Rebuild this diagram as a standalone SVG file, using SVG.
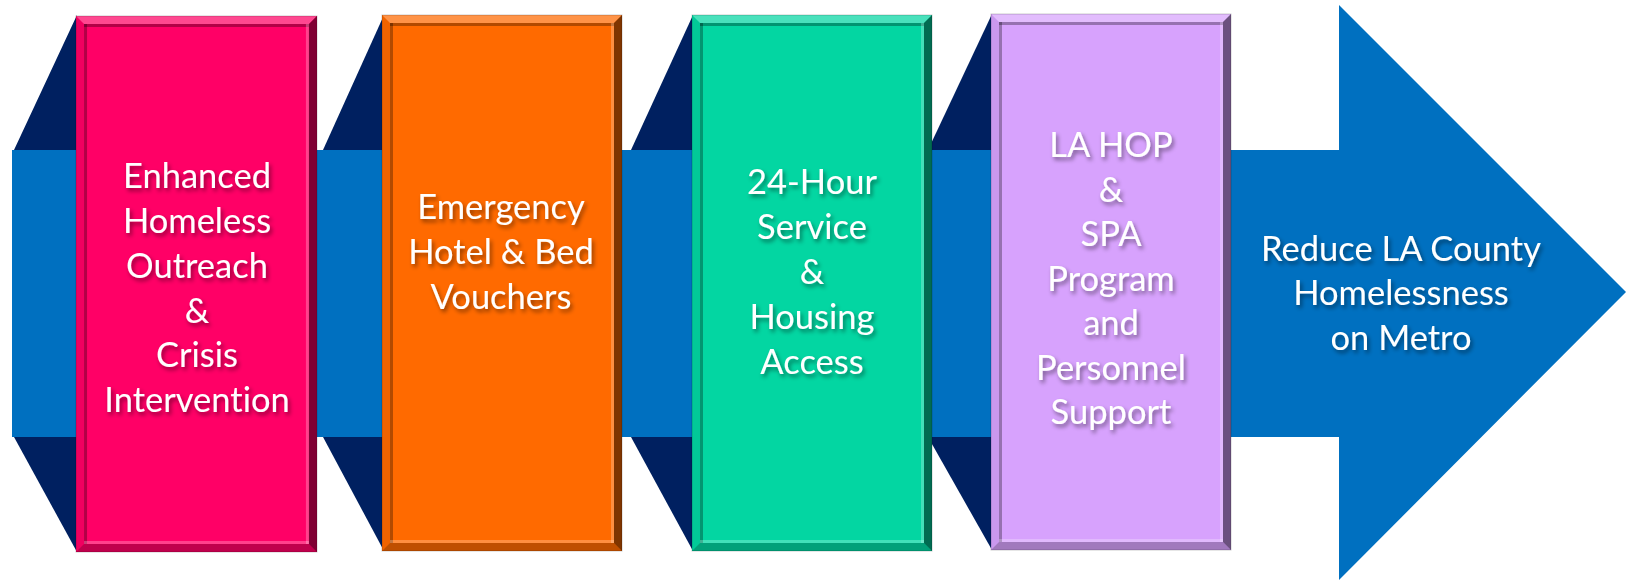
<svg xmlns="http://www.w3.org/2000/svg" xmlns:xlink="http://www.w3.org/1999/xlink" width="1628" height="580" viewBox="0 0 1628 580">
  <style>
    .lbl { font-family: Lato, "Liberation Sans", sans-serif; font-size: 34.5px; fill: #ffffff; text-anchor: middle; font-variant-ligatures: none; filter: url(#ts); }
    .fold { fill: #002060; }
    .band { fill: #0070C0; }
  </style>
  <defs>
    <filter id="ts" x="-20%" y="-40%" width="140%" height="180%">
      <feDropShadow dx="2" dy="3" stdDeviation="2" flood-color="#000000" flood-opacity="0.45"/>
    </filter>
    <g id="bevel">
      <polygon points="0,0 240,0 232,8 8,8" fill="#ffffff" fill-opacity="0.28"/>
      <polygon points="0,0 8,8 8,528 0,536" fill="#000000" fill-opacity="0.06"/>
      <polygon points="240,0 240,536 232,528 232,8" fill="#000000" fill-opacity="0.5"/>
      <polygon points="0,536 8,528 232,528 240,536" fill="#000000" fill-opacity="0.25"/>
      <rect x="8" y="8" width="224" height="3" fill="#000000" fill-opacity="0.3"/>
      <rect x="8" y="8" width="3" height="520" fill="#000000" fill-opacity="0.3"/>
      <rect x="229" y="8" width="3" height="520" fill="#ffffff" fill-opacity="0.25"/>
      <rect x="8" y="525" width="224" height="3" fill="#ffffff" fill-opacity="0.25"/>
      <rect x="0" y="0" width="240" height="536" fill="none" stroke="#000000" stroke-opacity="0.2" stroke-width="1"/>
    </g>
  </defs>

  <g id="connectors">
    <path class="band" d="M12,150 H1339 V5 L1626,292 L1339,580 V437 H12 Z"/>
    <polygon class="fold" points="14,150 77,15 77,150"/>
    <polygon class="fold" points="14,437 77,437 77,552"/>
    <polygon class="fold" points="323,150 384,15 384,150"/>
    <polygon class="fold" points="323,437 384,437 384,551"/>
    <polygon class="fold" points="631,150 693,15 693,150"/>
    <polygon class="fold" points="631,437 693,437 693,551"/>
    <polygon class="fold" points="928,150 992,14 992,150"/>
    <polygon class="fold" points="928,437 992,437 992,550"/>
  </g>

  <g id="node1">
    <rect x="76" y="16" width="241" height="536" fill="#FF0066"/>
    <use xlink:href="#bevel" transform="translate(76,16) scale(1.004,1)"/>
    <text class="lbl" x="197" y="188">Enhanced</text>
    <text class="lbl" x="197" y="233">Homeless</text>
    <text class="lbl" x="197" y="278">Outreach</text>
    <text class="lbl" x="197" y="323">&amp;</text>
    <text class="lbl" x="197" y="367">Crisis</text>
    <text class="lbl" x="197" y="412">Intervention</text>
  </g>

  <g id="node2">
    <rect x="382" y="15" width="240" height="536" fill="#FF6A00"/>
    <use xlink:href="#bevel" transform="translate(382,15)"/>
    <text class="lbl" x="501" y="219">Emergency</text>
    <text class="lbl" x="501" y="264">Hotel &amp; Bed</text>
    <text class="lbl" x="501" y="309">Vouchers</text>
  </g>

  <g id="node3">
    <rect x="692" y="15" width="240" height="536" fill="#03D6A2"/>
    <use xlink:href="#bevel" transform="translate(692,15)"/>
    <text class="lbl" x="812" y="194">24-Hour</text>
    <text class="lbl" x="812" y="239">Service</text>
    <text class="lbl" x="812" y="284">&amp;</text>
    <text class="lbl" x="812" y="329">Housing</text>
    <text class="lbl" x="812" y="374">Access</text>
  </g>

  <g id="node4">
    <rect x="991" y="14" width="240" height="536" fill="#D7A2FD"/>
    <use xlink:href="#bevel" transform="translate(991,14)"/>
    <text class="lbl" x="1111" y="157">LA HOP</text>
    <text class="lbl" x="1111" y="202">&amp;</text>
    <text class="lbl" x="1111" y="246">SPA</text>
    <text class="lbl" x="1111" y="291">Program</text>
    <text class="lbl" x="1111" y="335">and</text>
    <text class="lbl" x="1111" y="380">Personnel</text>
    <text class="lbl" x="1111" y="424">Support</text>
  </g>

  <g id="goal">
    <text class="lbl" x="1401" y="261">Reduce LA County</text>
    <text class="lbl" x="1401" y="305">Homelessness</text>
    <text class="lbl" x="1401" y="350">on Metro</text>
  </g>
</svg>
